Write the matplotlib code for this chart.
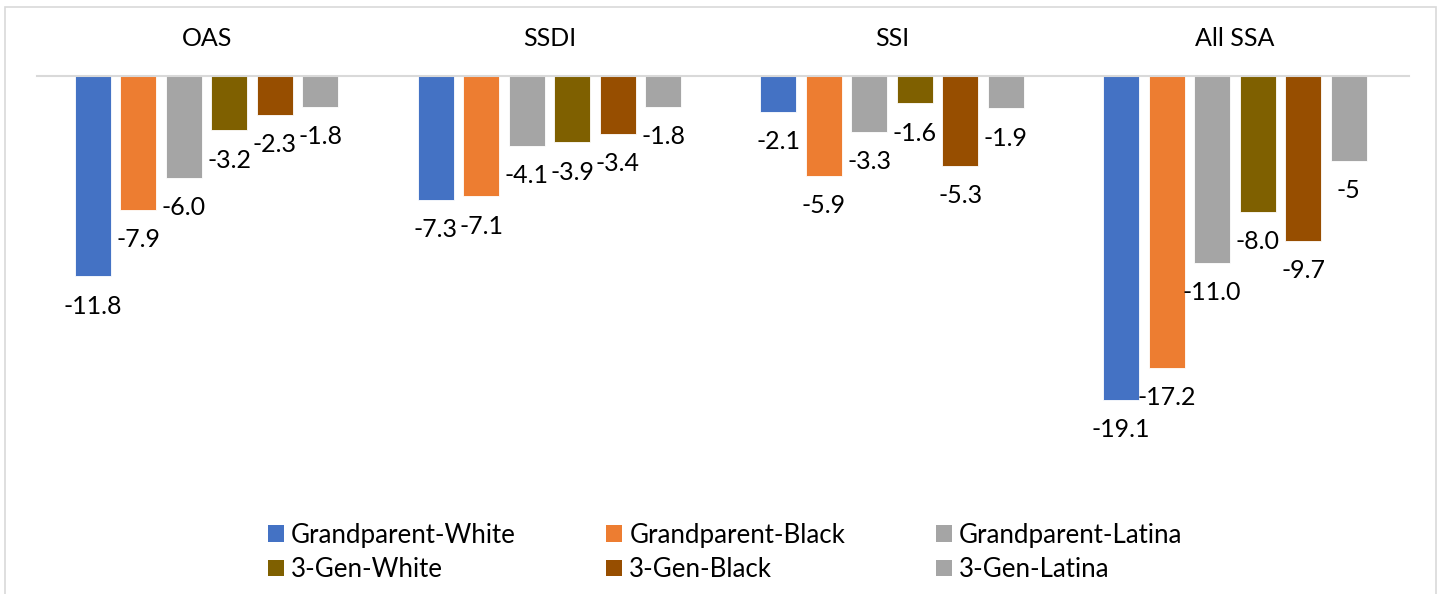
import matplotlib.pyplot as plt
import numpy as np
from matplotlib.patches import Rectangle, Patch

# programs (categories)
programs = ['OAS', 'SSDI', 'SSI', 'All SSA']

# series values, one per program
gp_white = [-11.8, -7.3, -2.1, -19.1]
gp_black = [-7.9, -7.1, -5.9, -17.2]
gp_latina = [-6.0, -4.1, -3.3, -11.0]
gen3_white = [-3.2, -3.9, -1.6, -8.0]
gen3_black = [-2.3, -3.4, -5.3, -9.7]
gen3_latina = [-1.8, -1.8, -1.9, -5]

series_names = ['Grandparent-White', 'Grandparent-Black', 'Grandparent-Latina',
                '3-Gen-White', '3-Gen-Black', '3-Gen-Latina']
series_values = [gp_white, gp_black, gp_latina, gen3_white, gen3_black, gen3_latina]
colors = ['#4472C4', '#ED7D31', '#A5A5A5', '#7F6000', '#974E00', '#A5A5A5']

plt.rcParams['font.family'] = ['Lato', 'DejaVu Sans']
FS = 18

W, H = 1440, 594
fig = plt.figure(figsize=(W / 100, H / 100), dpi=100)

# outer chart frame (bottom edge runs off the picture)
fig.patches.append(Rectangle((5 / W, -0.05), 1431 / W, 1.05 - 7 / H,
                             transform=fig.transFigure, fill=False,
                             edgecolor='#D9D9D9', linewidth=1.2))

# plot area: zero line at y=76 px, 17 px per unit
ymin = -22
top_px, bot_px = 76, 76 + 22 * 16.97
left_px, width_px = 35.4, 1370.8
ax = fig.add_axes([left_px / W, 1 - bot_px / H, width_px / W, (bot_px - top_px) / H])
ax.set_xlim(-0.5, 3.5)
ax.set_ylim(ymin, 0)

x = np.arange(len(programs))
pitch = 45.5 / 342.7
width = 36 / 342.7
for j, (vals, c) in enumerate(zip(series_values, colors)):
    pos = x + (j - 2.5) * pitch
    ax.bar(pos, vals, width, color=c, edgecolor='white', linewidth=0.6)
    for px, v in zip(pos, vals):
        ax.annotate(str(v), (px, v), xytext=(0, -21.5), textcoords='offset points',
                    ha='center', va='center', fontsize=FS, color='#000000')

ax.plot([-0.5 + 1.6 / 342.7, 3.5 + 3.2 / 342.7], [0, 0], color='#D9D9D9',
        linewidth=1.5, clip_on=False)
for s in ax.spines.values():
    s.set_visible(False)
ax.set_yticks([])
ax.xaxis.tick_top()
ax.set_xticks(x)
ax.set_xticklabels(programs, fontsize=FS)
ax.tick_params(axis='x', length=0, pad=19)

# legend: row-wise order needs column-first handles
order = [0, 3, 1, 4, 2, 5]
handles = [Patch(facecolor=colors[i], edgecolor='none') for i in order]
labels = [series_names[i] for i in order]
fig.legend(handles, labels, ncol=3, loc='center', bbox_to_anchor=(725 / W, 1 - 552.5 / H),
           frameon=False, fontsize=18.6, handlelength=0.62, handleheight=0.62,
           handletextpad=0.27, columnspacing=3.5, labelspacing=0.36)

fig.savefig('out.png', dpi=100)
